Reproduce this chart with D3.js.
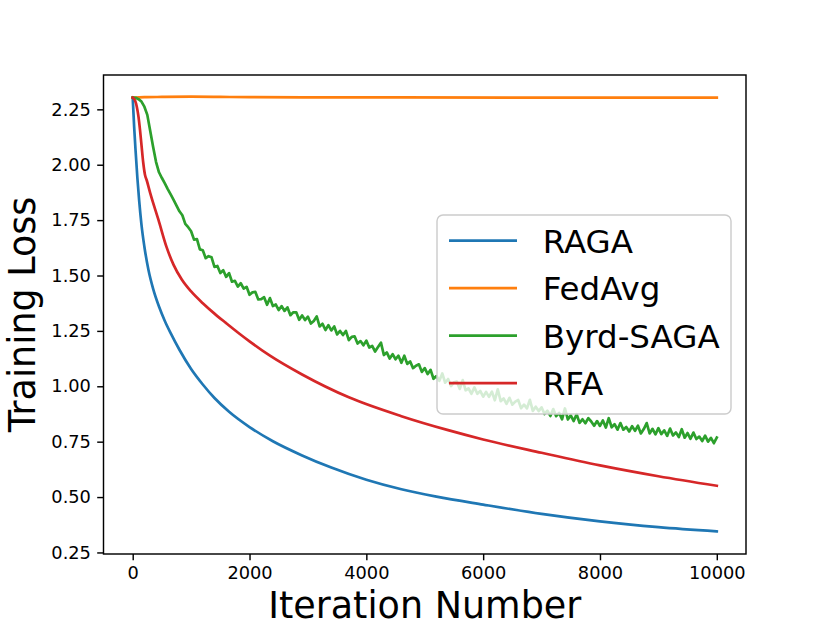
<!DOCTYPE html>
<html>
<head>
<meta charset="utf-8">
<script src="https://cdn.jsdelivr.net/npm/d3@7"></script>
<style>
  body { margin: 0; background: #fff; }
  text { font-family: "DejaVu Sans", sans-serif; fill: #000; }
</style>
</head>
<body>
<div id="chart"></div>
<script>
// series names and colours (matplotlib tab10)
const seriesNames = ["RAGA", "FedAvg", "Byrd-SAGA", "RFA"]
const seriesColors = ["#1f77b4", "#ff7f0e", "#2ca02c", "#d62728"]

// RAGA
const ragaIter = [0, 25, 50, 80, 110, 150, 200, 270, 350, 450, 550, 650, 800, 1000, 1200, 1400, 1650, 2000, 2400, 2900, 3400, 4000, 4600, 5200, 6000, 7000, 8000, 9000, 10000]
const ragaLoss = [2.303, 2.17, 2.06, 1.94, 1.84, 1.73, 1.63, 1.525, 1.44, 1.36, 1.295, 1.24, 1.165, 1.078, 1.008, 0.947, 0.885, 0.816, 0.752, 0.688, 0.633, 0.578, 0.535, 0.502, 0.466, 0.424, 0.390, 0.364, 0.345]

// FedAvg
const fedIter = [0, 200, 500, 1000, 1500, 2000, 4000, 7000, 10000]
const fedLoss = [2.303, 2.305, 2.306, 2.307, 2.306, 2.305, 2.304, 2.303, 2.303]

// RFA
const rfaIter = [0, 40, 70, 100, 125, 150, 180, 210, 240, 300, 440, 580, 700, 840, 1000, 1200, 1400, 1600, 1800, 2000, 2350, 2900, 3700, 4600, 5400, 6000, 7000, 8000, 9000, 10000]
const rfaLoss = [2.303, 2.29, 2.262, 2.215, 2.157, 2.09, 2.01, 1.955, 1.93, 1.872, 1.752, 1.628, 1.548, 1.482, 1.428, 1.375, 1.328, 1.285, 1.243, 1.203, 1.138, 1.053, 0.950, 0.865, 0.802, 0.760, 0.700, 0.643, 0.594, 0.551]

// Byrd-SAGA, one value every 50 iterations (noisy)
const sagaStep = 50
const sagaLoss = [
  2.303, 2.302, 2.296, 2.285, 2.262, 2.225, 2.152, 2.080, 2.012, 1.966,
  1.940, 1.916, 1.890, 1.866, 1.841, 1.815, 1.790, 1.772, 1.733, 1.718,
  1.700, 1.662, 1.664, 1.618, 1.614, 1.578, 1.587, 1.582, 1.539, 1.543,
  1.511, 1.524, 1.494, 1.511, 1.472, 1.476, 1.450, 1.465, 1.441, 1.449,
  1.413, 1.424, 1.426, 1.392, 1.393, 1.402, 1.368, 1.398, 1.362, 1.369,
  1.344, 1.362, 1.340, 1.356, 1.321, 1.334, 1.334, 1.300, 1.320, 1.299,
  1.314, 1.283, 1.295, 1.315, 1.270, 1.282, 1.254, 1.276, 1.252, 1.270,
  1.234, 1.250, 1.231, 1.250, 1.208, 1.223, 1.225, 1.193, 1.204, 1.185,
  1.206, 1.175, 1.182, 1.157, 1.177, 1.197, 1.141, 1.153, 1.125, 1.145,
  1.122, 1.138, 1.106, 1.138, 1.101, 1.112, 1.082, 1.093, 1.099, 1.065,
  1.082, 1.055, 1.074, 1.034, 1.046, 1.025, 1.058, 1.016, 1.033, 1.001,
  1.018, 1.021, 0.988, 1.028, 0.982, 0.990, 0.966, 0.995, 0.966, 0.979,
  0.953, 0.975, 0.952, 0.976, 0.937, 0.986, 0.933, 0.945, 0.921, 0.948,
  0.917, 0.931, 0.938, 0.901, 0.917, 0.900, 0.939, 0.889, 0.908, 0.888,
  0.905, 0.875, 0.890, 0.866, 0.897, 0.865, 0.880, 0.851, 0.900, 0.850,
  0.869, 0.843, 0.874, 0.835, 0.851, 0.833, 0.856, 0.841, 0.822, 0.843,
  0.821, 0.846, 0.814, 0.856, 0.815, 0.829, 0.804, 0.834, 0.804, 0.816,
  0.796, 0.820, 0.799, 0.822, 0.787, 0.807, 0.834, 0.787, 0.808, 0.783,
  0.811, 0.784, 0.801, 0.776, 0.809, 0.778, 0.792, 0.771, 0.806, 0.768,
  0.789, 0.763, 0.791, 0.762, 0.773, 0.753, 0.777, 0.750, 0.767, 0.743,
  0.768
]

const xTicks = [0, 2000, 4000, 6000, 8000, 10000]
const yTicks = [0.25, 0.50, 0.75, 1.00, 1.25, 1.50, 1.75, 2.00, 2.25]

const outerWidth = 830, outerHeight = 623
const margin = { top: 75, right: 84, bottom: 69, left: 103.5 }
const innerWidth = outerWidth - margin.left - margin.right
const innerHeight = outerHeight - margin.top - margin.bottom

const svg = d3.select("#chart").append("svg")
  .attr("width", outerWidth)
  .attr("height", outerHeight)

const rootG = svg.append("g")
  .attr("transform", "translate(" + margin.left + "," + margin.top + ")")

const xScale = d3.scaleLinear().domain([-500, 10500]).range([0, innerWidth])
const yScale = d3.scaleLinear().domain([0.243, 2.405]).range([innerHeight, 0])

const toPoints = (xs, ys) => ys.map((v, i) => [xs[i], v])
const sagaIter = sagaLoss.map((v, i) => i * sagaStep)

const series = [
  { pts: toPoints(ragaIter, ragaLoss), curve: d3.curveMonotoneX },
  { pts: toPoints(fedIter, fedLoss), curve: d3.curveMonotoneX },
  { pts: toPoints(sagaIter, sagaLoss), curve: d3.curveLinear },
  { pts: toPoints(rfaIter, rfaLoss), curve: d3.curveMonotoneX }
]

// lines
rootG.append("clipPath").attr("id", "plotclip")
  .append("rect").attr("width", innerWidth).attr("height", innerHeight)

const linesG = rootG.append("g").attr("clip-path", "url(#plotclip)")
series.forEach((s, i) => {
  const line = d3.line().x(d => xScale(d[0])).y(d => yScale(d[1])).curve(s.curve)
  linesG.append("path")
    .datum(s.pts)
    .attr("fill", "none")
    .attr("stroke", seriesColors[i])
    .attr("stroke-width", 2.7)
    .attr("stroke-linejoin", "round")
    .attr("stroke-linecap", "square")
    .attr("d", line)
})

// axes
const xAxis = d3.axisBottom(xScale).tickValues(xTicks).tickSize(6.3).tickPadding(6.3)
  .tickFormat(d3.format("d"))
const yAxis = d3.axisLeft(yScale).tickValues(yTicks).tickSize(6.3).tickPadding(6.3)
  .tickFormat(d3.format(".2f"))

const xG = rootG.append("g").attr("transform", "translate(0," + innerHeight + ")").call(xAxis)
const yG = rootG.append("g").call(yAxis)
;[xG, yG].forEach(g => {
  g.select(".domain").remove()
  g.selectAll(".tick line").attr("stroke", "#000").attr("stroke-width", 1.44)
  g.selectAll(".tick text").attr("font-size", 17.8).attr("font-family", "DejaVu Sans").attr("fill", "#000")
})

// spines
rootG.append("rect")
  .attr("width", innerWidth).attr("height", innerHeight)
  .attr("fill", "none").attr("stroke", "#000").attr("stroke-width", 1.44)

// axis labels
svg.append("text")
  .attr("x", margin.left + innerWidth / 2)
  .attr("y", 618)
  .attr("text-anchor", "middle")
  .attr("font-size", 36.5)
  .text("Iteration Number")

svg.append("text")
  .attr("transform", "translate(35," + (margin.top + innerHeight / 2) + ") rotate(-90)")
  .attr("text-anchor", "middle")
  .attr("font-size", 36.5)
  .text("Training Loss")

// legend
const legendG = svg.append("g").attr("transform", "translate(437,215)")
legendG.append("rect")
  .attr("width", 294).attr("height", 199)
  .attr("rx", 6).attr("ry", 6)
  .attr("fill", "#fff").attr("fill-opacity", 0.8)
  .attr("stroke", "#ccc").attr("stroke-width", 1.44)

seriesNames.forEach((name, i) => {
  const cy = 25.7 + i * 47.5
  legendG.append("line")
    .attr("x1", 12).attr("x2", 80)
    .attr("y1", cy).attr("y2", cy)
    .attr("stroke", seriesColors[i]).attr("stroke-width", 2.7)
  legendG.append("text")
    .attr("x", 105.7).attr("y", cy + 11.8)
    .attr("font-size", 32.5)
    .text(name)
})
</script>
</body>
</html>
